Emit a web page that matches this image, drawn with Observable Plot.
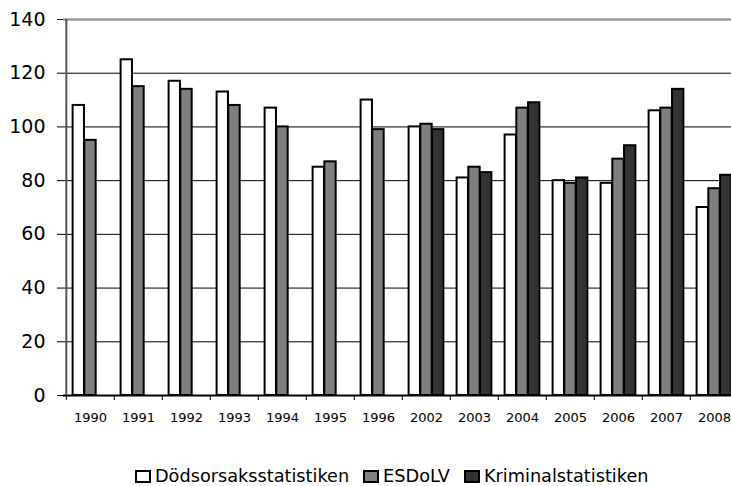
<!DOCTYPE html>
<html><head><meta charset="utf-8">
<script src="https://cdn.jsdelivr.net/npm/d3@7"></script>
<script src="https://cdn.jsdelivr.net/npm/@observablehq/plot@0.6"></script>
<style>
body{margin:0;background:#fff;overflow:hidden;font-family:"DejaVu Sans",sans-serif}
#wrap{width:731px;overflow:hidden}
#wrap svg{display:block;max-width:none !important;height:430px !important;width:740px !important}
#legend{display:flex;align-items:center;padding-left:135px;margin-top:36px;font-size:17.7px;height:20px;line-height:20px;color:#000}
.item{display:flex;align-items:center;margin-right:14px}
.sw{width:16px;height:13px;box-sizing:border-box;border:2px solid #000;margin-right:4px}
</style>
</head><body><div id="wrap"></div><div id="legend"></div>
<script>
const years = ["1990","1991","1992","1993","1994","1995","1996","2002","2003","2004","2005","2006","2007","2008"];
const series = ["Dödsorsaksstatistiken","ESDoLV","Kriminalstatistiken"];
const dodsorsak = [108,125,117,113,107,85,110,100,81,97,80,79,106,70];
const esdolv = [95,115,114,108,100,87,99,101,85,107,79,88,107,77];
const kriminal = [null,null,null,null,null,null,null,99,83,109,81,93,114,82];
const colors = ["#ffffff","#808080","#333333"];
const yTicks = [0,20,40,60,80,100,120,140];

const values = [dodsorsak, esdolv, kriminal];
const table = series.flatMap((s,i)=>values[i].map((v,j)=>({year:years[j], series:s, value:v}))).filter(d=>d.value!=null);

const W=740, ML=63, MR=0, H=430, MT=19, MB=35;
const bw=(W-ML-MR)/years.length;
const pitch=bw*0.242;
const inset=(bw-pitch)/2;

const chart = Plot.plot({
  width:W, height:H, marginLeft:ML, marginRight:MR, marginTop:MT, marginBottom:MB,
  style:{fontFamily:"DejaVu Sans", color:"#000", background:"#fff"},
  x:{type:"band", domain:years, padding:0},
  y:{domain:[0,140]},
  marks:[
    Plot.ruleY(yTicks.slice(1,-1), {stroke:"#000", strokeWidth:1}),
    Plot.ruleY([140], {stroke:"#999", strokeWidth:2.5}),
    ...series.map((s,i)=>Plot.barY(table.filter(d=>d.series===s), {
      x:"year", y:"value", fill:colors[i], stroke:"#000", strokeWidth:2,
      insetLeft:inset, insetRight:inset, dx:(i-1)*pitch
    })),
    Plot.ruleY([0], {stroke:"#000", strokeWidth:2}),
    Plot.ruleX([years[0]], {dx:-bw/2, y1:0, y2:140, stroke:"#555", strokeWidth:2}),
    Plot.axisY({ticks:yTicks, tickSize:6, tickPadding:12, fontSize:19, stroke:"#000", label:null}),
    Plot.axisX({tickSize:5, tickFormat:()=>"", dx:-bw/2, stroke:"#000", label:null}),
    Plot.axisX({tickSize:0, tickPadding:17, fontSize:13, label:null})
  ]
});
document.getElementById("wrap").appendChild(chart);

const leg = document.getElementById("legend");
series.forEach((s,i)=>{
  const it=document.createElement("div"); it.className="item";
  const sw=document.createElement("div"); sw.className="sw"; sw.style.background=colors[i];
  const tx=document.createElement("span"); tx.textContent=s;
  it.appendChild(sw); it.appendChild(tx); leg.appendChild(it);
});
</script>
</body></html>
